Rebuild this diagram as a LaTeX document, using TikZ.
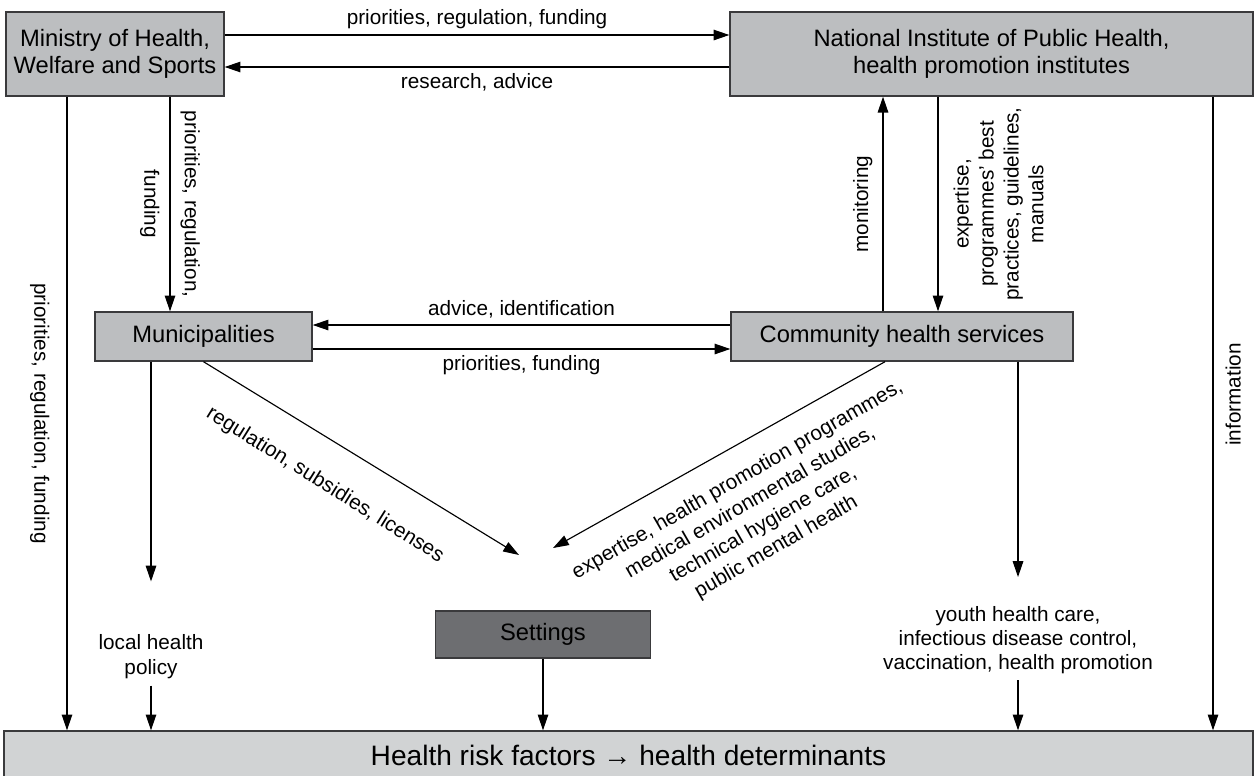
\documentclass[tikz,border=0pt]{standalone}
\usepackage{fontspec}
\setmainfont{Liberation Sans}
\usetikzlibrary{arrows.meta, calc}
\definecolor{boxgray}{HTML}{BCBEC0}
\definecolor{basegray}{HTML}{D1D3D4}
\definecolor{settinggray}{HTML}{6D6E71}
\definecolor{edgegray}{HTML}{3A3A3C}
\tikzstyle{actor} = [rectangle, draw=edgegray, line width=0.8pt, fill=boxgray, align=center, inner sep=0pt, font=\fontsize{13.5}{15.5}\selectfont]
\tikzstyle{flow} = [align=center, font=\fontsize{11.8}{14.2}\selectfont]
\tikzstyle{vflow} = [flow, inner ysep=0.2cm]

\begin{document}
\begin{tikzpicture}[x=0.02cm, y=-0.02cm, line width=0.65pt, >={Triangle[length=9pt,width=6pt]}]
    \useasboundingbox (0,0) rectangle (1256,775);

    % actors
    \node at (115,54) [actor, minimum width=4.36cm, minimum height=1.68cm] (ministry) {Ministry of Health,\\Welfare and Sports};
    \node at (991.5,54) [actor, minimum width=10.46cm, minimum height=1.68cm] (rivm) {National Institute of Public Health,\\health promotion institutes};
    \node at (203.5,336.5) [actor, minimum width=4.34cm, minimum height=0.98cm] (municip) {Municipalities};
    \node at (902,336.5) [actor, minimum width=6.84cm, minimum height=0.98cm] (ggd) {Community health services};
    \node at (543,634.5) [actor, fill=settinggray, minimum width=4.3cm, minimum height=0.94cm] (settings) {Settings};
    \node at (628.5,758.5) [actor, fill=basegray, minimum width=24.98cm, minimum height=1.1cm, font=\fontsize{16}{19}\selectfont] (determ) {\raisebox{3.7pt}{Health risk factors → health determinants}};

    % outcomes
    \node at (151,657) [flow] (localpol) {local health\\policy};
    \node at (1018,640) [flow, font=\fontsize{11.8}{13.6}\selectfont] (ggdtasks) {youth health care,\\infectious disease control,\\vaccination, health promotion};

    % columns and free ends
    \coordinate (minline) at (67,0);
    \coordinate (munline) at (170,0);
    \coordinate (monline) at (883,0);
    \coordinate (expline) at (938,0);
    \coordinate (infline) at (1213,0);
    \coordinate (regtip) at (519,555);
    \coordinate (exptip) at (553,548);

    % top level
    \draw[->] ([yshift=0.38cm]ministry.east) -- node[above, flow] {priorities, regulation, funding} ([yshift=0.38cm]rivm.west);
    \draw[->] ([yshift=-0.26cm]rivm.west) -- node[below, flow] {research, advice} ([yshift=-0.26cm]ministry.east);
    \draw[->] (ministry.south -| minline) -- node[vflow, rotate=-90, anchor=north, inner ysep=0.34cm] {priorities, regulation, funding} (determ.north -| minline);
    \draw[->] (ministry.south -| munline) -- node[vflow, rotate=-90, anchor=south] {priorities, regulation,} node[vflow, rotate=-90, anchor=north] {funding} (municip.north -| munline);
    \draw[->] (ggd.north -| monline) -- node[vflow, rotate=90, anchor=south] {monitoring} (rivm.south -| monline);
    \draw[->] (rivm.south -| expline) -- node[vflow, rotate=90, anchor=north, inner ysep=0.3cm] {expertise,\\programmes' best\\practices, guidelines,\\manuals} (ggd.north -| expline);
    \draw[->] (rivm.south -| infline) -- node[vflow, rotate=90, anchor=north, pos=0.47, inner ysep=0.24cm] {information} (determ.north -| infline);

    % local level
    \draw[->] ([yshift=0.23cm]ggd.west) -- node[above, flow] {advice, identification} ([yshift=0.23cm]municip.east);
    \draw[->] ([yshift=-0.25cm]municip.east) -- node[below, flow] {priorities, funding} ([yshift=-0.25cm]ggd.west);
    \draw[->] (municip.south) -- (regtip);
    \node at (325,485) [flow, rotate=-32] (reglabel) {regulation, subsidies, licenses};
    \draw[->] ([xshift=-0.34cm]ggd.south) -- (exptip);
    \node at (757,514) [flow, rotate=30, font=\fontsize{11.8}{14.7}\selectfont] (explabel) {expertise, health promotion programmes,\\medical environmental studies,\\technical hygiene care,\\public mental health};
    \draw[->, shorten >=0.94cm] (localpol.north |- municip.south) -- (localpol.north);
    \draw[->, shorten >=0.46cm] (ggdtasks.north |- ggd.south) -- (ggdtasks.north);

    % into the determinants
    \draw[->] (localpol.south) -- (localpol.south |- determ.north);
    \draw[->] (settings.south) -- (settings.south |- determ.north);
    \draw[->] (ggdtasks.south) -- (ggdtasks.south |- determ.north);

\end{tikzpicture}
\end{document}
